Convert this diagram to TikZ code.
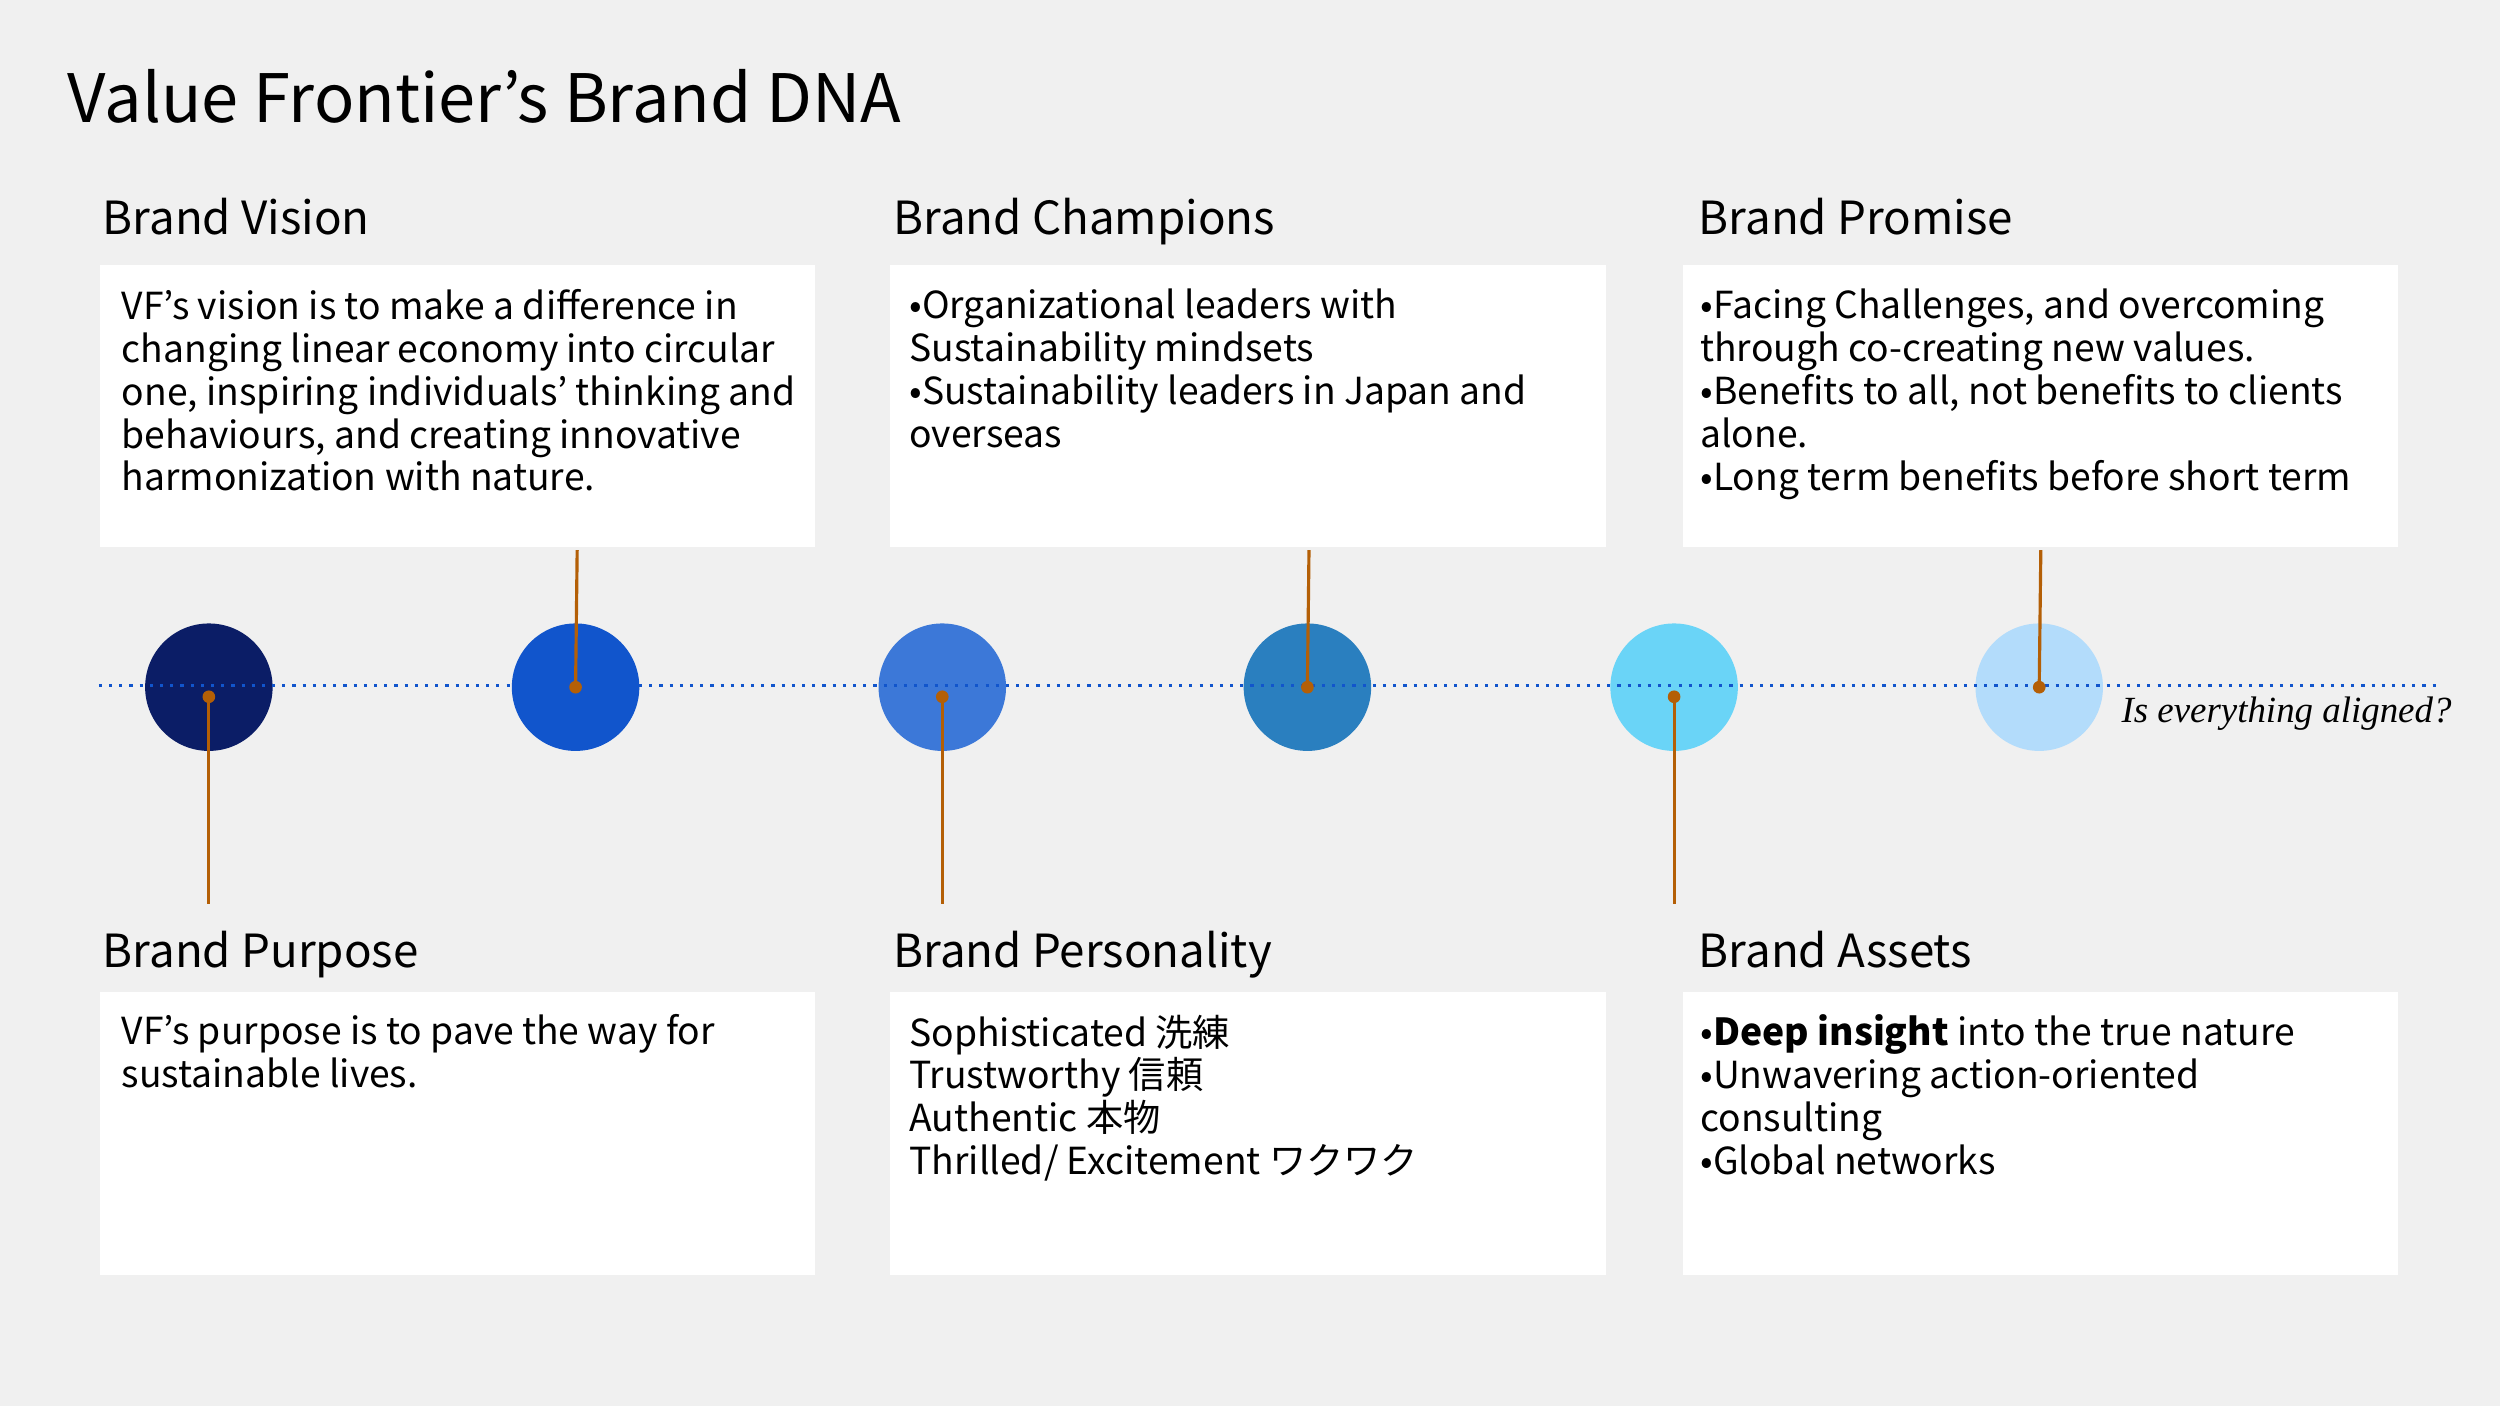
\documentclass[tikz,border=0pt]{standalone}
\usepackage{fontspec}
\setmainfont{Noto Sans CJK JP}
\newfontfamily\serifit{Liberation Serif}
\usetikzlibrary{positioning}
\definecolor{bgGray}{HTML}{F0F0F0}
\definecolor{stemOrange}{HTML}{B45F06}
\definecolor{lineBlue}{HTML}{1155CC}
\definecolor{dotA}{HTML}{0B1D66}
\definecolor{dotB}{HTML}{1155CC}
\definecolor{dotC}{HTML}{3C78D8}
\definecolor{dotD}{HTML}{2A7FBF}
\definecolor{dotE}{HTML}{6AD4F7}
\definecolor{dotF}{HTML}{B3DCFB}
\begin{document}
\begin{tikzpicture}[
    x=0.01594cm, y=-0.01594cm,
    card/.style={fill=white, draw=none, minimum width=7.157cm, minimum height=2.821cm, anchor=north west},
    body/.style={anchor=north west, align=left, inner sep=0pt, font=\fontsize{10.6}{12.2}\selectfont},
    head/.style={anchor=base west, inner sep=0pt, font=\fontsize{13}{15}\selectfont},
    dot/.style={circle, minimum size=1.275cm, inner sep=0pt},
    stem/.style={stemOrange, line width=0.9pt}
]
    \fill[bgGray] (0,0) rectangle (1568,882);
    \useasboundingbox (0,0) rectangle (1568,882);

    % Title
    \node[anchor=base west, inner sep=0pt, font=\fontsize{19}{22}\selectfont] (title) at (42,77) {Value Frontier’s Brand DNA};

    % Cards
    \node[card] (vision) at (62,166) {};
    \node[card] (champ) at (558,166) {};
    \node[card] (promise) at (1055,166) {};
    \node[card] (purpose) at (62,622) {};
    \node[card] (person) at (558,622) {};
    \node[card] (assets) at (1055,622) {};

    % Headings
    \node[head] (hvision) at (64,147) {Brand Vision};
    \node[head] (hchamp) at (560,147) {Brand Champions};
    \node[head] (hpromise) at (1065,147) {Brand Promise};
    \node[head] (hpurpose) at (64,607) {Brand Purpose};
    \node[head] (hperson) at (560,607) {Brand Personality};
    \node[head] (hassets) at (1065,607) {Brand Assets};

    % Texts
    \node[body] (tvision) at (76,181) {VF's vision is to make a difference in\\changing linear economy into circular\\one, inspiring individuals' thinking and\\behaviours, and creating innovative\\harmonization with nature.};
    \node[body] (tchamp) at (570,181) {•Organizational leaders with\\Sustainability mindsets\\•Sustainability leaders in Japan and\\overseas};
    \node[body] (tpromise) at (1066,181) {•Facing Challenges, and overcoming\\through co-creating new values.\\•Benefits to all, not benefits to clients\\alone.\\•Long term benefits before short term};
    \node[body] (tpurpose) at (76,636) {VF’s purpose is to pave the way for\\sustainable lives.};
    \node[body] (tperson) at (570,636) {Sophisticated 洗練\\Trustworthy 信頼\\Authentic 本物\\Thrilled/ Excitement ワクワク};
    \node[body] (tassets) at (1066,636) {•\textbf{Deep insight} into the true nature\\•Unwavering action-oriented\\consulting\\•Global networks};

    % Circles
    \node[dot, fill=dotA] (c1) at (131,431) {};
    \node[dot, fill=dotB] (c2) at (361,431) {};
    \node[dot, fill=dotC] (c3) at (591,431) {};
    \node[dot, fill=dotD] (c4) at (820,431) {};
    \node[dot, fill=dotE] (c5) at (1050,431) {};
    \node[dot, fill=dotF] (c6) at (1279,431) {};

    % Timeline
    \coordinate (lstart) at (62,430);
    \coordinate (lend) at (1530,430);
    \draw[lineBlue, line width=0.9pt, dotted] (lstart) -- (lend);
    \node[anchor=base east, inner sep=0pt, font=\serifit\itshape\fontsize{10.5}{12}\selectfont] (aligned) at (1538,453) {Is everything aligned?};

    % Stems
    \coordinate (s1) at (131,567);
    \coordinate (s2) at (362,345);
    \coordinate (s3) at (591,567);
    \coordinate (s4) at (821,345);
    \coordinate (s5) at (1050,567);
    \coordinate (s6) at (1280,345);
    \foreach \x/\y/\e in {131/437/s1, 361/431/s2, 591/437/s3, 820/431/s4, 1050/437/s5, 1279/431/s6} {
        \draw[stem] (\x,\y) -- (\e);
        \fill[stemOrange] (\x,\y) circle (1.8pt);
    }
\end{tikzpicture}
\end{document}
